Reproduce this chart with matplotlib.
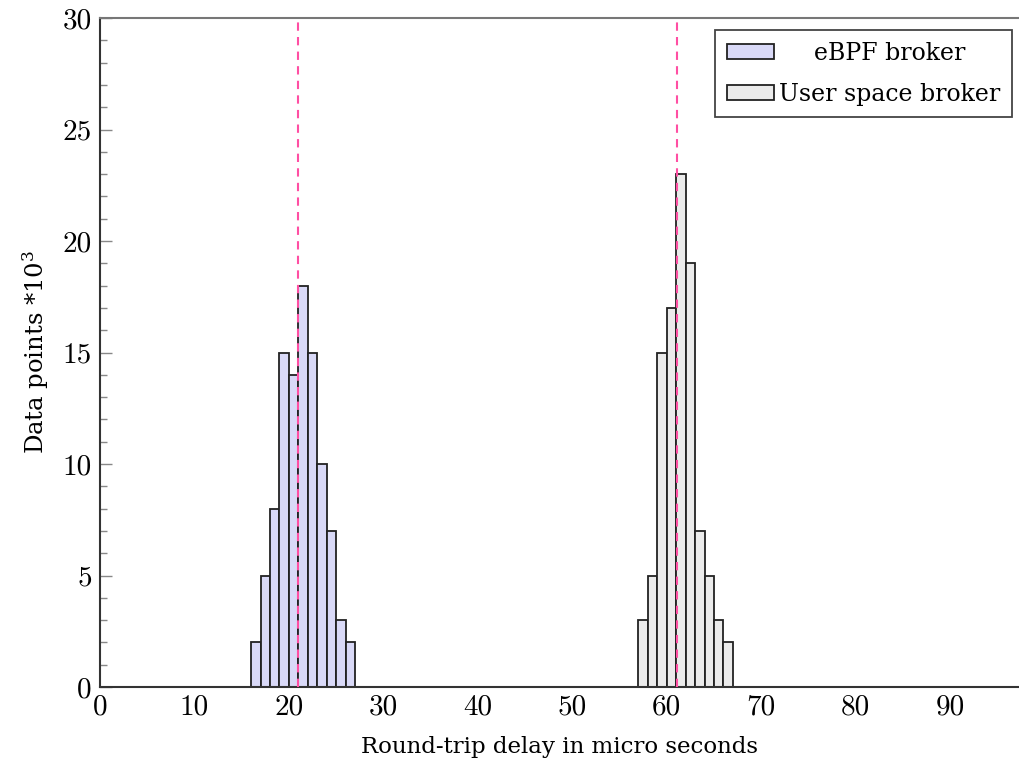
import numpy as np
import matplotlib
matplotlib.use("Agg")
import matplotlib.pyplot as plt
from matplotlib.ticker import MultipleLocator

# histogram bins (left edge, width 1 us) and counts in thousands
ebpf_bins = [16, 17, 18, 19, 20, 21, 22, 23, 24, 25, 26]
ebpf_counts = [2, 5, 8, 15, 14, 18, 15, 10, 7, 3, 2]
user_bins = [57, 58, 59, 60, 61, 62, 63, 64, 65, 66]
user_counts = [3, 5, 15, 17, 23, 19, 7, 5, 3, 2]

# mean round-trip delays
ebpf_mean = 20.95
user_mean = 61.05

plt.rcParams["mathtext.fontset"] = "dejavuserif"

fig = plt.figure(figsize=(10.19, 7.63), dpi=100)
ax = fig.add_axes([0.0981, 0.0996, 0.902, 0.8768])

ax.bar(ebpf_bins, ebpf_counts, width=1, align="edge", color="#d9d9f7",
       edgecolor="#222222", linewidth=1.3, label="eBPF broker", zorder=2)
ax.bar(user_bins, user_counts, width=1, align="edge", color="#ebebeb",
       edgecolor="#222222", linewidth=1.3, label="User space broker", zorder=2)

ax.axvline(ebpf_mean, color="#ff4fa3", linestyle=(0, (4, 3)), linewidth=1.5, zorder=3)
ax.axvline(user_mean, color="#ff4fa3", linestyle=(0, (4, 3)), linewidth=1.5, zorder=3)

ax.set_xlim(0, 97.3)
ax.set_ylim(0, 30)
ax.yaxis.set_major_locator(MultipleLocator(5))
ax.yaxis.set_minor_locator(MultipleLocator(1))
ax.set_xticks(range(0, 100, 10))

ax.tick_params(axis="y", which="both", direction="in", color="#888888", width=1)
ax.tick_params(axis="y", which="major", length=8.5, labelsize=21, pad=6)
ax.tick_params(axis="y", which="minor", length=5)
ax.tick_params(axis="x", length=0, labelsize=21, pad=5)
for lab in ax.get_yticklabels() + ax.get_xticklabels():
    lab.set_fontfamily("cmr10")

ax.spines["right"].set_visible(False)
for s in ["left", "bottom"]:
    ax.spines[s].set_linewidth(1.5)
    ax.spines[s].set_color("#333333")
ax.spines["top"].set_linewidth(1.5)
ax.spines["top"].set_color("#777777")

ax.set_xlabel("Round-trip delay in micro seconds", fontsize=16.5,
              fontfamily="DejaVu Serif", labelpad=11)
ax.set_ylabel(r"Data points $*10^3$", fontsize=17.5,
              fontfamily="DejaVu Serif", labelpad=8)

leg = ax.legend(loc="upper right", bbox_to_anchor=(0.992, 0.982),
                prop={"family": "DejaVu Serif", "size": 17}, fancybox=False,
                framealpha=1, edgecolor="#444444", handlelength=2.0,
                handleheight=0.6, handletextpad=0.2, borderpad=0.5,
                labelspacing=0.75, borderaxespad=0)
leg.get_frame().set_linewidth(1.3)

# centre the shorter legend label like the original
fig.canvas.draw()
texts = leg.get_texts()
w = [t.get_window_extent().width for t in texts]
rows = leg._legend_handle_box.get_children()[0].get_children()
px_per_pt = fig.dpi / 72.0
rows[0].sep = rows[0].sep + (max(w) - w[0]) / 2 / px_per_pt

fig.savefig("out.png", dpi=100)
